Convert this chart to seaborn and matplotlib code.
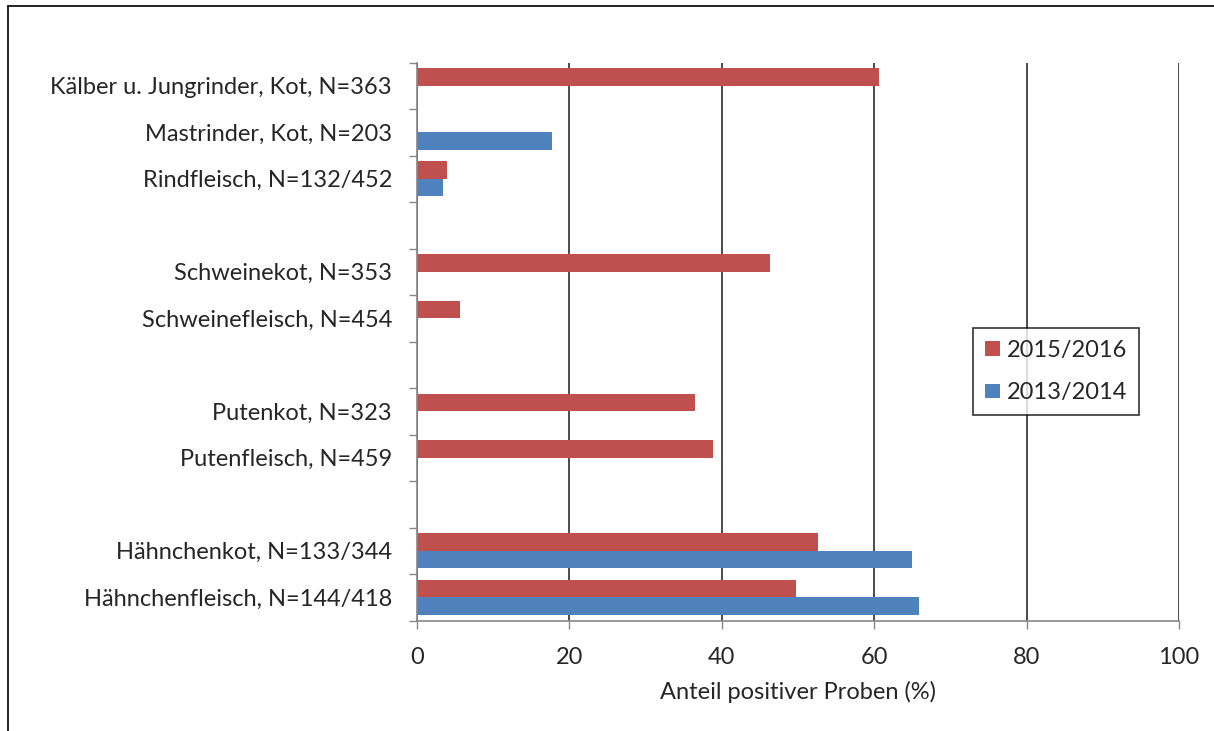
"""
Horizontal bar chart: share of positive samples per matrix,
comparison of monitoring periods 2015/2016 vs. 2013/2014.
"""

import matplotlib
matplotlib.use('Agg')
import matplotlib.pyplot as plt
import seaborn as sns
import pandas as pd
from matplotlib.lines import Line2D
from matplotlib.ticker import FixedLocator

# ==========================================
# Data
# ==========================================
categories = [
    'Kälber u. Jungrinder, Kot, N=363',
    'Mastrinder, Kot, N=203',
    'Rindfleisch, N=132/452',
    '',
    'Schweinekot, N=353',
    'Schweinefleisch, N=454',
    '',
    'Putenkot, N=323',
    'Putenfleisch, N=459',
    '',
    'Hähnchenkot, N=133/344',
    'Hähnchenfleisch, N=144/418',
]
share_2015_2016 = [60.6, None, 4.0, None, 46.3, 5.7, None, 36.5, 38.8, None, 52.6, 49.8]
share_2013_2014 = [None, 17.7, 3.4, None, None, None, None, None, None, None, 64.9, 65.9]
periods = ['2015/2016', '2013/2014']
period_colors = ['#C0504D', '#4F81BD']

# ==========================================
# Formatting
# ==========================================
FS = 17
sns.set_style('white')
plt.rcParams['font.family'] = ['Lato', 'DejaVu Sans']
plt.rcParams['font.size'] = FS

# unique keys so that empty spacer rows keep their own slot
row_keys = [c if c else f'_gap{i}' for i, c in enumerate(categories)]

records = []
for key, v15, v13 in zip(row_keys, share_2015_2016, share_2013_2014):
    if v15 is not None:
        records.append({'row': key, 'period': periods[0], 'share': v15})
    if v13 is not None:
        records.append({'row': key, 'period': periods[1], 'share': v13})
df = pd.DataFrame(records)

fig = plt.figure(figsize=(12.14, 7.31), dpi=100)
ax = fig.add_axes([0.3435, 0.1511, 0.6277, 0.7634])

sns.barplot(data=df, y='row', x='share', hue='period', order=row_keys,
            hue_order=periods, palette=period_colors, orient='h',
            width=0.75, errorbar=None, linewidth=0, saturation=1, ax=ax)

# --- x axis ---
ax.set_xlim(0, 100)
ax.set_xticks(range(0, 101, 20))
ax.set_xlabel('Anteil positiver Proben (%)', fontsize=FS, labelpad=9)
ax.tick_params(axis='x', direction='out', length=6, width=1, color='#868686',
               pad=13, labelsize=FS, bottom=True)
ax.grid(axis='x', color='#1a1a1a', linewidth=1.1)
ax.grid(axis='y', visible=False)
ax.set_axisbelow(True)

# --- y axis: labels centred on rows, ticks between rows ---
ax.set_ylim(len(row_keys) - 0.5, -0.5)
ax.set_yticks(range(len(row_keys)))
ax.set_yticklabels(categories)
ax.set_ylabel('')
ax.tick_params(axis='y', which='major', length=0, pad=18, labelsize=FS)
ax.yaxis.set_minor_locator(FixedLocator([i - 0.5 for i in range(len(row_keys) + 1)]))
ax.tick_params(axis='y', which='minor', direction='out', length=6, width=1,
               color='#868686', left=True)

for side in ['top', 'right']:
    ax.spines[side].set_visible(False)
for side in ['left', 'bottom']:
    ax.spines[side].set_color('#868686')
    ax.spines[side].set_linewidth(1.2)

# --- legend ---
handles, labels = ax.get_legend_handles_labels()
leg = ax.legend(handles, labels, loc='upper left', bbox_to_anchor=(0.7295, 0.524),
                borderaxespad=0, frameon=True, fancybox=False, fontsize=FS,
                handlelength=0.65, handleheight=0.55, handletextpad=0.3,
                labelspacing=0.9, borderpad=0.5)
leg.get_frame().set_edgecolor('black')
leg.get_frame().set_linewidth(1.2)

# --- outer chart frame (left and top edges visible) ---
fig.add_artist(Line2D([8 / 1214, 8 / 1214], [0, 1 - 6 / 731], transform=fig.transFigure,
                      color='black', linewidth=1.2))
fig.add_artist(Line2D([8 / 1214, 1], [1 - 6 / 731, 1 - 6 / 731], transform=fig.transFigure,
                      color='black', linewidth=1.2))

fig.savefig('out.png', dpi=100)
